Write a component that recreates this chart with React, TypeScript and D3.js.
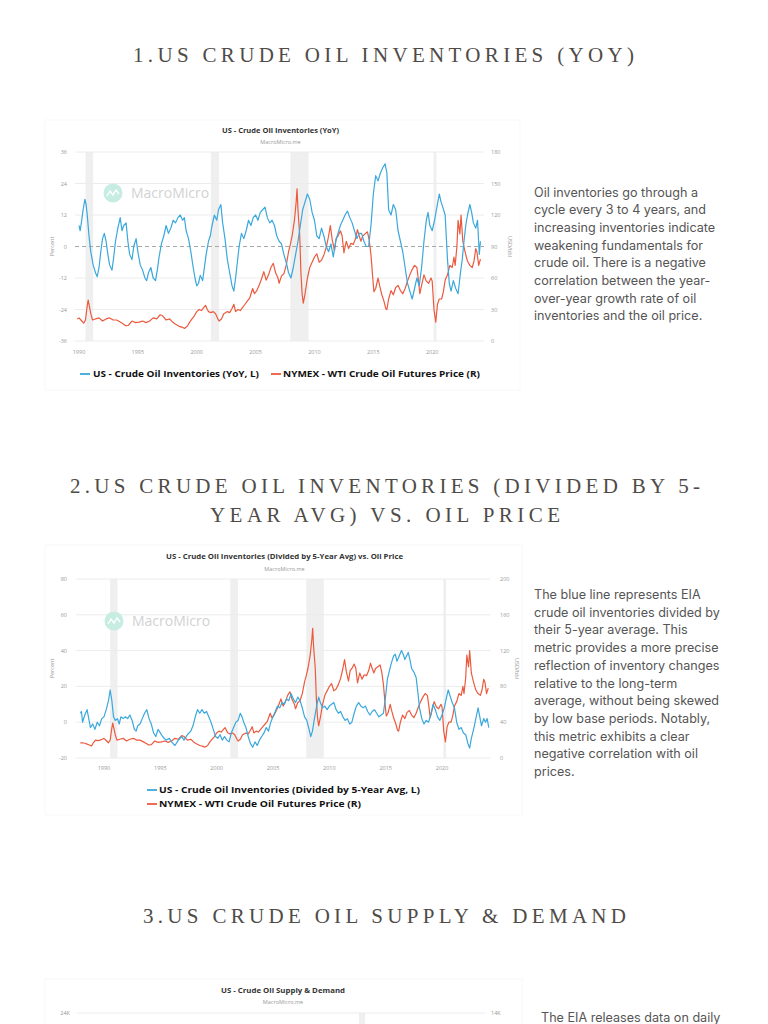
import React from 'react';
import * as d3 from 'd3';

type Pt = [number, number];

// NYMEX WTI crude oil futures price (USD/bbl), decimal year
const wtiPrice: Pt[] = [
  [1987.9,17],[1988.1,17],[1988.3,16.5],[1988.5,15.5],[1988.7,14.5],[1988.9,13.5],[1989.05,17],[1989.25,20],[1989.45,19.5],[1989.65,20],[1989.85,21],
  [1990.0,22],[1990.2,19.5],[1990.4,17],[1990.55,20],[1990.68,32],[1990.78,39],[1990.9,32],[1991.0,26],[1991.15,20],[1991.4,21],[1991.7,22],
  [1992.0,19],[1992.3,21],[1992.6,22],[1992.9,20],[1993.2,20],[1993.5,18],[1993.8,16],[1993.95,14.5],[1994.2,15],[1994.5,19],[1994.8,17.5],
  [1995.1,18],[1995.4,19],[1995.7,17.5],[1996.0,19],[1996.3,22],[1996.6,21],[1996.9,25],[1997.1,24],[1997.4,20],[1997.7,21],[1997.95,18],
  [1998.2,16],[1998.5,14],[1998.8,13],[1998.95,12],[1999.2,14],[1999.4,18],[1999.6,21],[1999.8,24],[2000.0,28],[2000.2,30],[2000.4,29],
  [2000.6,32],[2000.75,34],[2000.9,30],[2001.0,28],[2001.2,27],[2001.4,28],[2001.6,26],[2001.8,21],[2001.9,19],[2002.1,21],[2002.3,26],
  [2002.6,28],[2002.8,27],[2003.0,31],[2003.15,35],[2003.3,28],[2003.5,30],[2003.7,29],[2003.9,32],[2004.1,35],[2004.3,38],[2004.5,41],
  [2004.75,50],[2004.9,45],[2005.1,48],[2005.3,53],[2005.5,59],[2005.7,66],[2005.9,58],[2006.1,63],[2006.3,70],[2006.5,74],[2006.7,65],
  [2006.9,60],[2007.0,55],[2007.2,62],[2007.4,64],[2007.6,72],[2007.8,85],[2007.95,92],[2008.1,100],[2008.3,115],[2008.45,133],[2008.52,145],
  [2008.6,125],[2008.75,100],[2008.85,65],[2008.95,45],[2009.05,36],[2009.2,45],[2009.4,60],[2009.6,70],[2009.8,75],[2010.0,80],[2010.2,83],
  [2010.4,75],[2010.6,77],[2010.8,82],[2011.0,89],[2011.2,100],[2011.35,110],[2011.5,97],[2011.7,86],[2011.85,98],[2012.0,100],[2012.2,105],
  [2012.35,100],[2012.5,84],[2012.7,95],[2012.9,88],[2013.1,93],[2013.3,92],[2013.5,98],[2013.65,106],[2013.8,100],[2013.95,95],[2014.1,100],
  [2014.3,102],[2014.5,104],[2014.65,96],[2014.8,82],[2014.95,60],[2015.05,47],[2015.2,50],[2015.4,60],[2015.55,52],[2015.7,45],[2015.9,38],
  [2016.05,31],[2016.15,30],[2016.3,40],[2016.5,48],[2016.7,44],[2016.9,51],[2017.1,53],[2017.3,48],[2017.5,45],[2017.7,50],[2017.9,57],
  [2018.1,63],[2018.3,68],[2018.5,72],[2018.7,70],[2018.85,56],[2018.95,45],[2019.1,53],[2019.3,63],[2019.5,57],[2019.7,55],[2019.9,60],
  [2020.0,57],[2020.15,30],[2020.3,18],[2020.45,35],[2020.6,40],[2020.8,40],[2020.95,47],[2021.1,58],[2021.3,63],[2021.5,72],[2021.7,70],
  [2021.85,80],[2021.95,72],[2022.1,90],[2022.2,115],[2022.35,102],[2022.45,120],[2022.6,95],[2022.75,87],[2022.9,80],[2023.0,76],
  [2023.2,72],[2023.4,70],[2023.55,76],[2023.7,88],[2023.8,85],[2023.95,72],[2024.1,78],
];

// US crude oil inventories, YoY %
const invYoY: Pt[] = [
  [1990.0,8],[1990.1,6],[1990.2,9],[1990.35,14],[1990.5,18],[1990.6,16],[1990.7,12],[1990.85,4],[1991.0,-2],[1991.2,-7],[1991.4,-10],
  [1991.55,-11.5],[1991.7,-8],[1991.85,-2],[1992.0,3],[1992.15,5],[1992.3,2],[1992.45,-3],[1992.6,-7],[1992.8,-9],[1992.95,-4],[1993.1,2],
  [1993.3,7],[1993.5,11],[1993.65,6],[1993.8,8],[1994.0,9],[1994.15,2],[1994.3,-3],[1994.5,-5],[1994.65,0],[1994.85,3],[1995.0,-2],
  [1995.2,-7],[1995.4,-9],[1995.6,-12],[1995.75,-13],[1995.9,-10],[1996.1,-8],[1996.3,-12],[1996.5,-13],[1996.65,-9],[1996.8,-4],[1997.0,1],
  [1997.2,4],[1997.4,8],[1997.6,5],[1997.8,7],[1998.0,10],[1998.2,9],[1998.4,11],[1998.6,12],[1998.8,10],[1998.95,11],[1999.1,6],[1999.3,3],
  [1999.5,-2],[1999.7,-8],[1999.85,-12],[2000.0,-15],[2000.15,-14],[2000.3,-11],[2000.5,-13],[2000.65,-8],[2000.8,-3],[2001.0,2],[2001.15,4],
  [2001.3,8],[2001.5,12],[2001.7,10],[2001.85,14],[2002.05,16],[2002.2,9],[2002.4,3],[2002.6,-5],[2002.8,-10],[2003.0,-15],[2003.15,-17],
  [2003.3,-12],[2003.45,-6],[2003.6,0],[2003.8,5],[2004.0,3],[2004.2,6],[2004.4,10],[2004.6,8],[2004.8,11],[2005.0,12],[2005.2,10],
  [2005.4,13],[2005.6,14],[2005.8,15],[2006.0,11],[2006.2,9],[2006.4,10],[2006.6,8],[2006.8,4],[2007.0,2],[2007.2,1],[2007.4,-3],[2007.6,-6],
  [2007.8,-10],[2008.0,-12],[2008.2,-8],[2008.4,-3],[2008.6,2],[2008.8,8],[2009.0,14],[2009.2,17],[2009.4,20],[2009.6,18],[2009.8,13],
  [2010.0,10],[2010.2,4],[2010.4,3],[2010.6,7],[2010.8,4],[2011.0,0],[2011.2,-2],[2011.4,1],[2011.6,-4],[2011.8,2],[2012.0,5],[2012.2,8],
  [2012.4,10],[2012.6,12],[2012.8,13.5],[2013.0,11],[2013.2,9],[2013.4,6],[2013.6,3],[2013.8,5],[2014.0,5],[2014.2,2],[2014.4,0],[2014.6,0],
  [2014.8,8],[2015.0,20],[2015.2,27],[2015.4,25],[2015.6,28],[2015.8,30],[2016.0,31.5],[2016.15,28],[2016.3,14],[2016.5,12],[2016.7,16],
  [2016.9,14],[2017.1,6],[2017.3,2],[2017.5,-2],[2017.7,-8],[2017.9,-14],[2018.1,-17],[2018.3,-20],[2018.5,-16],[2018.7,-12],[2018.9,-15],
  [2019.1,-8],[2019.3,2],[2019.5,10],[2019.65,13],[2019.8,8],[2020.0,6],[2020.2,10],[2020.4,15],[2020.6,20],[2020.75,17],[2020.9,15],
  [2021.1,12],[2021.3,-5],[2021.45,-14],[2021.6,-17],[2021.8,-13],[2022.0,-16],[2022.2,-18],[2022.4,-10],[2022.55,-5],[2022.7,2],[2022.85,8],
  [2023.0,12],[2023.2,16],[2023.35,13],[2023.5,9],[2023.7,7],[2023.85,10],[2024.0,-3],[2024.1,2],
];

// US crude oil inventories divided by 5-year average, %
const invVs5yr: Pt[] = [
  [1987.9,5],[1988.0,6],[1988.1,0],[1988.3,4],[1988.5,7],[1988.65,2],[1988.8,-3],[1989.0,-1],[1989.2,-4],[1989.4,0],[1989.6,-2],[1989.8,2],
  [1990.0,3],[1990.2,7],[1990.4,12],[1990.55,18],[1990.7,12],[1990.85,3],[1991.0,1],[1991.2,2],[1991.35,-1],[1991.5,3],[1991.7,2],[1991.9,3],
  [1992.1,2],[1992.3,4],[1992.5,1],[1992.7,-4],[1992.85,-5],[1993.0,-2],[1993.2,-1],[1993.4,2],[1993.6,5],[1993.8,7],[1994.0,2],[1994.2,-1],
  [1994.4,-6],[1994.6,-8],[1994.8,-4],[1995.0,-6],[1995.2,-8],[1995.5,-10],[1995.8,-9],[1996.0,-11],[1996.3,-13],[1996.6,-10],[1996.9,-8],
  [1997.1,-10],[1997.4,-7],[1997.7,-5],[1997.9,-2],[1998.1,3],[1998.3,7],[1998.5,5],[1998.7,7],[1998.9,5],[1999.1,6],[1999.3,3],[1999.5,0],
  [1999.7,-4],[1999.9,-8],[2000.1,-9],[2000.3,-7],[2000.5,-10],[2000.7,-8],[2000.9,-10],[2001.1,-11],[2001.3,-6],[2001.5,-3],[2001.7,0],
  [2001.9,1],[2002.1,5],[2002.25,3],[2002.4,0],[2002.6,-3],[2002.8,-8],[2003.0,-12],[2003.2,-14],[2003.4,-11],[2003.6,-13],[2003.8,-10],
  [2004.0,-8],[2004.2,-6],[2004.4,-3],[2004.6,-5],[2004.8,0],[2005.0,3],[2005.2,6],[2005.4,9],[2005.6,8],[2005.8,11],[2006.0,10],[2006.2,13],
  [2006.4,12],[2006.6,16],[2006.8,13],[2007.0,11],[2007.2,14],[2007.4,12],[2007.6,8],[2007.8,3],[2008.0,1],[2008.2,-4],[2008.35,-8],
  [2008.5,-5],[2008.7,3],[2008.9,10],[2009.05,14],[2009.2,11],[2009.4,8],[2009.6,9],[2009.8,7],[2010.0,9],[2010.2,10],[2010.4,11],[2010.6,7],
  [2010.8,5],[2011.0,6],[2011.2,3],[2011.4,1],[2011.6,2],[2011.8,-1],[2012.0,0],[2012.2,5],[2012.4,9],[2012.6,11],[2012.8,9],[2013.0,8],
  [2013.2,9],[2013.4,6],[2013.6,4],[2013.8,6],[2014.0,7],[2014.2,5],[2014.4,3],[2014.6,4],[2014.8,5],[2015.0,15],[2015.15,24],[2015.3,28],
  [2015.5,33],[2015.7,37],[2015.85,38],[2016.0,34],[2016.2,37],[2016.4,40],[2016.55,38],[2016.7,35],[2016.85,37],[2017.0,39],[2017.15,35],
  [2017.3,30],[2017.5,28],[2017.7,25],[2017.85,17],[2018.0,8],[2018.2,2],[2018.4,-1],[2018.6,1],[2018.8,0],[2019.0,4],[2019.2,10],[2019.4,7],
  [2019.6,3],[2019.8,1],[2020.0,4],[2020.2,8],[2020.4,14],[2020.55,18],[2020.7,15],[2020.9,11],[2021.1,8],[2021.3,0],[2021.5,-4],[2021.7,-3],
  [2021.9,-6],[2022.1,-7],[2022.3,-12],[2022.45,-14.5],[2022.6,-9],[2022.8,-4],[2023.0,2],[2023.2,8],[2023.35,3],[2023.5,-2],[2023.7,2],
  [2023.85,0],[2024.0,2],[2024.15,-3],
];

const recessions: Pt[] = [[1990.55, 1991.2], [2001.2, 2001.9], [2007.95, 2009.5], [2020.12, 2020.36]];

const c1LeftTicks = [-36, -24, -12, 0, 12, 24, 36];
const c1RightTicks = [0, 30, 60, 90, 120, 150, 180];
const c2LeftTicks = [-20, 0, 20, 40, 60, 80];
const c2RightTicks = [0, 40, 80, 120, 160, 200];
const yearTicks = [1990, 1995, 2000, 2005, 2010, 2015, 2020];

const para1 = [
  'Oil inventories go through a',
  'cycle every 3 to 4 years, and',
  'increasing inventories indicate',
  'weakening fundamentals for',
  'crude oil. There is a negative',
  'correlation between the year-',
  'over-year growth rate of oil',
  'inventories and the oil price.',
];
const para2 = [
  'The blue line represents EIA',
  'crude oil inventories divided by',
  'their 5-year average. This',
  'metric provides a more precise',
  'reflection of inventory changes',
  'relative to the long-term',
  'average, without being skewed',
  'by low base periods. Notably,',
  'this metric exhibits a clear',
  'negative correlation with oil',
  'prices.',
];
const para3 = ['The EIA releases data on daily'];

const BLUE = '#3aa8dc';
const RED = '#ec5a3e';
const SANS = '"Open Sans", "Noto Sans", sans-serif';
const SERIF = '"Liberation Serif", "DejaVu Serif", serif';

function Watermark({ x, y }: { x: number; y: number }) {
  return (
    <g>
      <circle cx={x} cy={y} r={9.5} fill="#c7ece2" />
      <polyline
        points={`${x - 6},${y + 3} ${x - 3},${y - 2} ${x},${y + 2} ${x + 3},${y - 3} ${x + 6},${y + 1}`}
        fill="none" stroke="#fff" strokeWidth={1.4} />
      <text x={x + 18} y={y + 5} fontSize={14} fill="#d2d2d2" fontFamily={SANS}>MacroMicro</text>
    </g>
  );
}

type LegendItem = { color: string; mx: number; my: number; tx: number; len: number; text: string };

type ChartCfg = {
  card: { x: number; y: number; w: number; h: number };
  title: string; titleLen: number; cx: number; titleY: number; subY: number;
  top: number; bottom: number;
  xDomain: Pt; xRange: Pt;
  leftDomain: Pt; rightDomain: Pt;
  leftTicks: number[]; rightTicks: number[];
  leftLabelX: number; rightLabelX: number; xLabelY: number;
  percentX: number; usdX: number; zeroDash: boolean;
  blue: Pt[]; red: Pt[];
  legend: LegendItem[];
  wm: { x: number; y: number };
};

function Chart({ c }: { c: ChartCfg }) {
  const xs = d3.scaleLinear().domain(c.xDomain).range(c.xRange);
  const yl = d3.scaleLinear().domain(c.leftDomain).range([c.bottom, c.top]);
  const yr = d3.scaleLinear().domain(c.rightDomain).range([c.bottom, c.top]);
  const inX = (d: Pt) => d[0] >= c.xDomain[0] && d[0] <= c.xDomain[1];
  const lineL = d3.line<Pt>().x(d => xs(d[0])).y(d => yl(d[1]));
  const lineR = d3.line<Pt>().x(d => xs(d[0])).y(d => yr(d[1]));
  const midY = (c.top + c.bottom) / 2;
  return (
    <g>
      <rect x={c.card.x} y={c.card.y} width={c.card.w} height={c.card.h} fill="#fff" stroke="#f8f8f8" />
      <text x={c.cx} y={c.titleY} textAnchor="middle" fontSize={7.5} fontWeight={700} fill="#333"
        fontFamily={SANS} textLength={c.titleLen} lengthAdjust="spacingAndGlyphs">{c.title}</text>
      <text x={c.cx} y={c.subY} textAnchor="middle" fontSize={5.5} fill="#999" fontFamily={SANS}>MacroMicro.me</text>
      {recessions.map((r, i) => (
        <rect key={i} x={xs(r[0])} y={c.top} width={xs(r[1]) - xs(r[0])} height={c.bottom - c.top} fill="#efefef" />
      ))}
      {c.leftTicks.map((t, i) => (
        <g key={i}>
          <line x1={c.xRange[0]} x2={c.xRange[1]} y1={yl(t)} y2={yl(t)}
            stroke={c.zeroDash && t === 0 ? '#a8a8a8' : '#ececec'} strokeWidth={1}
            strokeDasharray={c.zeroDash && t === 0 ? '4,3' : undefined} />
          <text x={c.leftLabelX} y={yl(t) + 2} textAnchor="end" fontSize={5.5} fill="#999" fontFamily={SANS}>{t}</text>
        </g>
      ))}
      {c.rightTicks.map((t, i) => (
        <text key={i} x={c.rightLabelX} y={yr(t) + 2} fontSize={5.5} fill="#999" fontFamily={SANS}>{t}</text>
      ))}
      {yearTicks.map((t, i) => (
        <text key={i} x={xs(t)} y={c.xLabelY} textAnchor="middle" fontSize={5.5} fill="#999" fontFamily={SANS}>{t}</text>
      ))}
      <text transform={`translate(${c.percentX},${midY}) rotate(-90)`} textAnchor="middle" fontSize={5.5} fill="#999" fontFamily={SANS}>Percent</text>
      <text transform={`translate(${c.usdX},${midY}) rotate(90)`} textAnchor="middle" fontSize={5.5} fill="#999" fontFamily={SANS}>USD/bbl</text>
      <Watermark x={c.wm.x} y={c.wm.y} />
      <path d={lineR(c.red.filter(inX)) || ''} fill="none" stroke={RED} strokeWidth={1.2} strokeLinejoin="round" />
      <path d={lineL(c.blue.filter(inX)) || ''} fill="none" stroke={BLUE} strokeWidth={1.2} strokeLinejoin="round" />
      {c.legend.map((l, i) => (
        <g key={i}>
          <line x1={l.mx} x2={l.mx + 10} y1={l.my} y2={l.my} stroke={l.color} strokeWidth={1.8} />
          <text x={l.tx} y={l.my + 3.3} fontSize={9.5} fontWeight={700} fill="#111" fontFamily={SANS}
            textLength={l.len} lengthAdjust="spacingAndGlyphs">{l.text}</text>
        </g>
      ))}
    </g>
  );
}

const chart1: ChartCfg = {
  card: { x: 45, y: 120, w: 475, h: 270 },
  title: 'US - Crude Oil Inventories (YoY)', titleLen: 117, cx: 280.5, titleY: 133, subY: 143.5,
  top: 152, bottom: 341,
  xDomain: [1989.66, 2024.4], xRange: [75, 484],
  leftDomain: [-36, 36], rightDomain: [0, 180],
  leftTicks: c1LeftTicks, rightTicks: c1RightTicks,
  leftLabelX: 67, rightLabelX: 491, xLabelY: 354,
  percentX: 54, usdX: 508, zeroDash: true,
  blue: invYoY, red: wtiPrice,
  legend: [
    { color: BLUE, mx: 80, my: 374, tx: 93, len: 166, text: 'US - Crude Oil Inventories (YoY, L)' },
    { color: RED, mx: 271, my: 374, tx: 283, len: 197, text: 'NYMEX - WTI Crude Oil Futures Price (R)' },
  ],
  wm: { x: 113, y: 193 },
};

const chart2: ChartCfg = {
  card: { x: 45, y: 545, w: 477, h: 270 },
  title: 'US - Crude Oil Inventories (Divided by 5-Year Avg) vs. Oil Price', titleLen: 237, cx: 284.5, titleY: 558.5, subY: 570.5,
  top: 579, bottom: 758,
  xDomain: [1987.5, 2024.3], xRange: [75.8, 490.5],
  leftDomain: [-20, 80], rightDomain: [0, 200],
  leftTicks: c2LeftTicks, rightTicks: c2RightTicks,
  leftLabelX: 67, rightLabelX: 500, xLabelY: 770,
  percentX: 54, usdX: 515, zeroDash: false,
  blue: invVs5yr, red: wtiPrice,
  legend: [
    { color: BLUE, mx: 147, my: 790, tx: 159, len: 261, text: 'US - Crude Oil Inventories (Divided by 5-Year Avg, L)' },
    { color: RED, mx: 147, my: 804, tx: 159, len: 202, text: 'NYMEX - WTI Crude Oil Futures Price (R)' },
  ],
  wm: { x: 114, y: 621 },
};

// Chart 3 (only its top is visible)
const c3Domain: Pt = [2006, 2026.4];
const c3Band: Pt = [2020.1, 2020.4];
const c3LeftTop = '24K';
const c3RightTop = '14K';

function Chart3() {
  const xs = d3.scaleLinear().domain(c3Domain).range([77, 485]);
  return (
    <g>
      <rect x={45} y={979} width={477} height={60} fill="#fff" stroke="#f8f8f8" />
      <text x={283} y={992.5} textAnchor="middle" fontSize={7.5} fontWeight={700} fill="#333" fontFamily={SANS}
        textLength={124} lengthAdjust="spacingAndGlyphs">US - Crude Oil Supply &amp; Demand</text>
      <text x={283} y={1004} textAnchor="middle" fontSize={5.5} fill="#999" fontFamily={SANS}>MacroMicro.me</text>
      <rect x={xs(c3Band[0])} y={1013} width={xs(c3Band[1]) - xs(c3Band[0])} height={20} fill="#efefef" />
      <line x1={77} x2={485} y1={1013} y2={1013} stroke="#ececec" />
      <text x={70} y={1015} textAnchor="end" fontSize={5.5} fill="#999" fontFamily={SANS}>{c3LeftTop}</text>
      <text x={491} y={1015} fontSize={5.5} fill="#999" fontFamily={SANS}>{c3RightTop}</text>
    </g>
  );
}

function Heading({ lines }: { lines: { text: string; x: number; y: number; len: number }[] }) {
  return (
    <g>
      {lines.map((l, i) => (
        <text key={i} x={l.x} y={l.y} fontSize={21} fill="#4f4b47" fontFamily={SERIF}
          textLength={l.len} lengthAdjust="spacing">{l.text}</text>
      ))}
    </g>
  );
}

function Para({ lines, x, y }: { lines: string[]; x: number; y: number }) {
  return (
    <g>
      {lines.map((t, i) => (
        <text key={i} x={x} y={y + i * 17.7} fontSize={12.6} fill="#555" fontFamily='Inter, "Noto Sans", sans-serif'>{t}</text>
      ))}
    </g>
  );
}

export default function App() {
  return (
    <svg width={768} height={1024} style={{ position: 'absolute', left: 0, top: 0, background: '#fff' }}>
      <rect width={768} height={1024} fill="#fff" />
      <Heading lines={[{ text: '1.US CRUDE OIL INVENTORIES (YOY)', x: 133, y: 62, len: 501 }]} />
      <Chart c={chart1} />
      <Para lines={para1} x={534} y={196.5} />
      <Heading lines={[
        { text: '2.US CRUDE OIL INVENTORIES (DIVIDED BY 5-', x: 70, y: 493, len: 630 },
        { text: 'YEAR AVG) VS. OIL PRICE', x: 210, y: 522, len: 350 },
      ]} />
      <Chart c={chart2} />
      <Para lines={para2} x={534} y={599} />
      <Heading lines={[{ text: '3.US CRUDE OIL SUPPLY & DEMAND', x: 143, y: 923, len: 483 }]} />
      <Chart3 />
      <Para lines={para3} x={541} y={1021.5} />
    </svg>
  );
}
